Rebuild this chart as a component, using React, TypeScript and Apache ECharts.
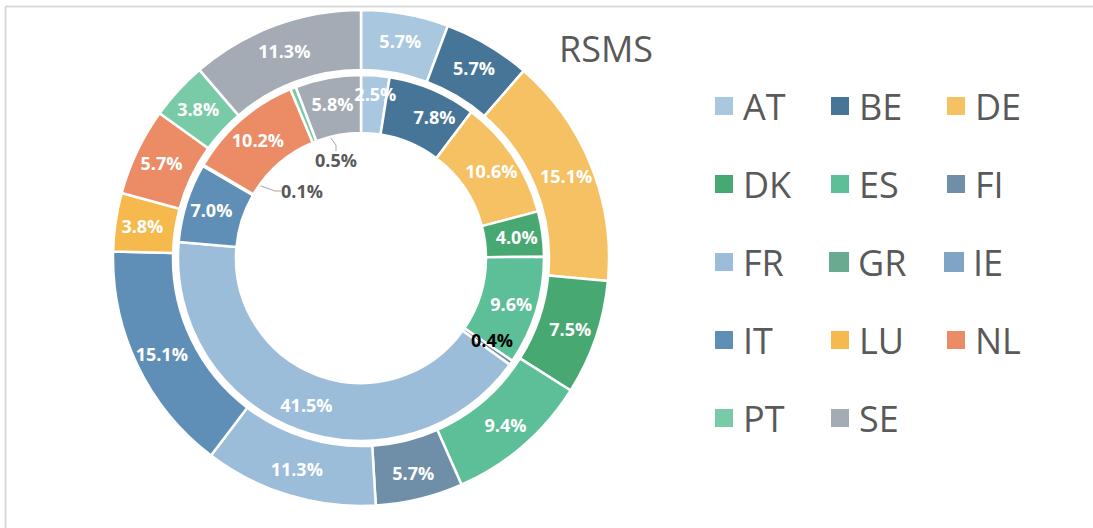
import React, { useEffect, useRef } from "react";
import * as echarts from "echarts";

const categories = ["AT", "BE", "DE", "DK", "ES", "FI", "FR", "GR", "IE", "IT", "LU", "NL", "PT", "SE"];
const colors = ["#a9c8e0", "#467597", "#f5c163", "#48a872", "#5cbf98", "#6f8ea8", "#9bbdd9", "#6aaa90", "#7fa4c4", "#5f8fb7", "#f5b94e", "#eb8c67", "#79cba8", "#a4abb4"];
const outerValues = [5.7, 5.7, 15.1, 7.5, 9.4, 5.7, 11.3, 0, 0, 15.1, 3.8, 5.7, 3.8, 11.3];
const innerValues = [2.5, 7.8, 10.6, 4.0, 9.6, 0.4, 41.5, 0, 0, 7.0, 0.1, 10.2, 0.5, 5.8];
const title = "RSMS";

// small inner slices whose labels sit away from the slice, with a leader line
const innerCallouts: Record<string, { x: number; y: number; color: string }> = {
  FI: { x: 492, y: 340, color: "#000000" },
  LU: { x: 302, y: 191, color: "#595959" },
  PT: { x: 336, y: 160, color: "#595959" },
};
// small nudges of inside labels, as placed in the original
const innerNudges: Record<string, { dx: number; dy: number }> = {
  AT: { dx: 2, dy: -7 },
  BE: { dx: 12, dy: 3 },
};

const FONT = "'Open Sans', 'Noto Sans', sans-serif";

function buildData(values: number[], isInner: boolean) {
  return categories.map((name, i) => {
    const item: any = {
      name,
      value: values[i],
      itemStyle: { color: colors[i] },
    };
    if (values[i] === 0) {
      item.label = { show: false };
      item.itemStyle = { color: colors[i], borderWidth: 0 };
    } else if (isInner && innerCallouts[name]) {
      item.label = {
        position: "outside",
        color: innerCallouts[name].color,
      };
      item.labelLine = {
        show: true,
        length: 6,
        length2: 6,
        lineStyle: { color: "#a6a6a6", width: 1 },
      };
    }
    return item;
  });
}

export default function App() {
  const ref = useRef<HTMLDivElement>(null);
  useEffect(() => {
    if (!ref.current) return;
    const chart = echarts.init(ref.current, undefined, { renderer: "svg" });
    const labelBase = {
      show: true,
      position: "inside",
      color: "#ffffff",
      fontFamily: FONT,
      fontWeight: "bold",
      fontSize: 18,
      formatter: (p: any) => Number(p.value).toFixed(1) + "%",
    };
    chart.setOption({
      animation: false,
      color: colors,
      title: {
        text: title,
        left: 554,
        top: 25,
        textStyle: { fontFamily: FONT, fontSize: 36, fontWeight: "normal", color: "#595959" },
      },
      legend: {
        left: 708,
        top: 67,
        width: 352,
        orient: "horizontal",
        icon: "rect",
        itemWidth: 20,
        itemHeight: 20,
        itemGap: 10,
        data: categories,
        textStyle: {
          fontFamily: FONT,
          fontSize: 36,
          color: "#595959",
          width: 76,
          lineHeight: 68,
          padding: [0, 0, 0, 4],
        },
      },
      graphic: [
        {
          type: "line",
          shape: { x1: 5.5, y1: 6.5, x2: 1100, y2: 6.5 },
          style: { stroke: "#d9d9d9", lineWidth: 2 },
          silent: true,
        },
        {
          type: "line",
          shape: { x1: 5.5, y1: 6.5, x2: 5.5, y2: 540 },
          style: { stroke: "#d9d9d9", lineWidth: 2 },
          silent: true,
        },
      ],
      series: [
        {
          type: "pie",
          name: "outer",
          center: [361, 258],
          radius: [188, 248],
          startAngle: 90,
          clockwise: true,
          avoidLabelOverlap: false,
          itemStyle: { borderColor: "#ffffff", borderWidth: 2.5 },
          label: labelBase,
          labelLine: { show: false },
          emphasis: { disabled: true },
          data: buildData(outerValues, false),
        },
        {
          type: "pie",
          name: "inner",
          center: [361, 258],
          radius: [125, 183],
          startAngle: 90,
          clockwise: true,
          avoidLabelOverlap: false,
          itemStyle: { borderColor: "#ffffff", borderWidth: 2.5 },
          label: labelBase,
          labelLine: { show: false },
          emphasis: { disabled: true },
          labelLayout: (params: any) => {
            const name = categories[params.dataIndex];
            const c = innerCallouts[name];
            if (c) return { x: c.x, y: c.y, align: "center", verticalAlign: "middle" };
            const n = innerNudges[name];
            if (n) return { dx: n.dx, dy: n.dy };
            return {};
          },
          data: buildData(innerValues, true),
        },
      ],
    });
    return () => chart.dispose();
  }, []);
  return (
    <div
      ref={ref}
      style={{ position: "absolute", left: 0, top: 0, width: 1093, height: 528, background: "#ffffff" }}
    />
  );
}
